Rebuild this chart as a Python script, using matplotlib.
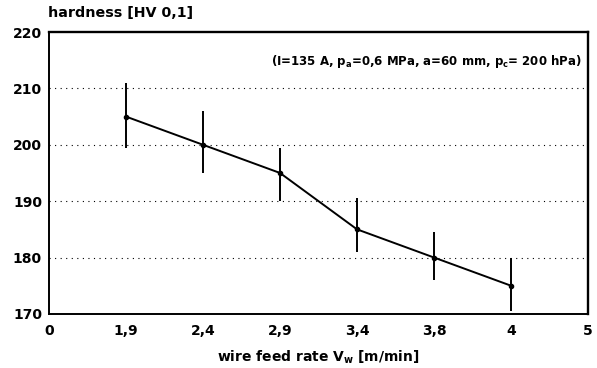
import numpy as np
import matplotlib
matplotlib.use("Agg")
import matplotlib.pyplot as plt

# wire feed rate categories (equally spaced on the axis)
x_labels = ["0", "1,9", "2,4", "2,9", "3,4", "3,8", "4", "5"]
feed_rates = ["1,9", "2,4", "2,9", "3,4", "3,8", "4"]
hardness = [205, 200, 195, 185, 180, 175]
upper = [211, 206, 199.5, 190.5, 184.5, 180]
lower = [199.5, 195, 190, 181, 176, 170.5]

plt.rcParams['font.family'] = ['DejaVu Sans']
plt.rcParams['font.weight'] = 'bold'
plt.rcParams['axes.labelweight'] = 'bold'
plt.rcParams['mathtext.fontset'] = 'custom'
plt.rcParams['mathtext.rm'] = 'DejaVu Sans:bold'
plt.rcParams['mathtext.it'] = 'DejaVu Sans:bold'

fig = plt.figure(figsize=(5.97, 3.68), dpi=100)
ax = fig.add_axes([0.082, 0.147, 0.903, 0.766])

pos = [x_labels.index(f) for f in feed_rates]
h = np.array(hardness)
yerr = [h - np.array(lower), np.array(upper) - h]

ax.errorbar(pos, h, yerr=yerr, fmt='-o', color='black', lw=1.4,
            ms=3, elinewidth=1.4, capsize=0)

ax.set_xlim(0, len(x_labels) - 1)
ax.set_ylim(170, 220)
ax.set_xticks(range(len(x_labels)))
ax.set_xticklabels(x_labels)
ax.set_yticks([170, 180, 190, 200, 210, 220])
for yv in [180, 190, 200, 210]:
    ax.axhline(yv, color='black', lw=0.8, ls=(0, (1, 4)), zorder=0)

ax.tick_params(axis='x', length=0, pad=7, labelsize=10)
ax.tick_params(axis='y', length=0, pad=5, labelsize=10)
for s in ['left', 'bottom']:
    ax.spines[s].set_linewidth(1.4)
for s in ['top', 'right']:
    ax.spines[s].set_linewidth(1.7)

ax.set_xlabel(r"wire feed rate V$_w$ [m/min]", fontsize=10, fontweight='bold',
              labelpad=8)
fig.text(48 / 597, 1 - 13 / 368, "hardness [HV 0,1]", fontsize=10.3,
         ha='left', va='center', fontweight='bold')
ax.text(0.989, 0.894, r"(I=135 A, p$_a$=0,6 MPa, a=60 mm, p$_c$= 200 hPa)",
        transform=ax.transAxes, ha='right', va='center', fontsize=8.5,
        fontweight='bold')

fig.savefig("out.png", dpi=100)
